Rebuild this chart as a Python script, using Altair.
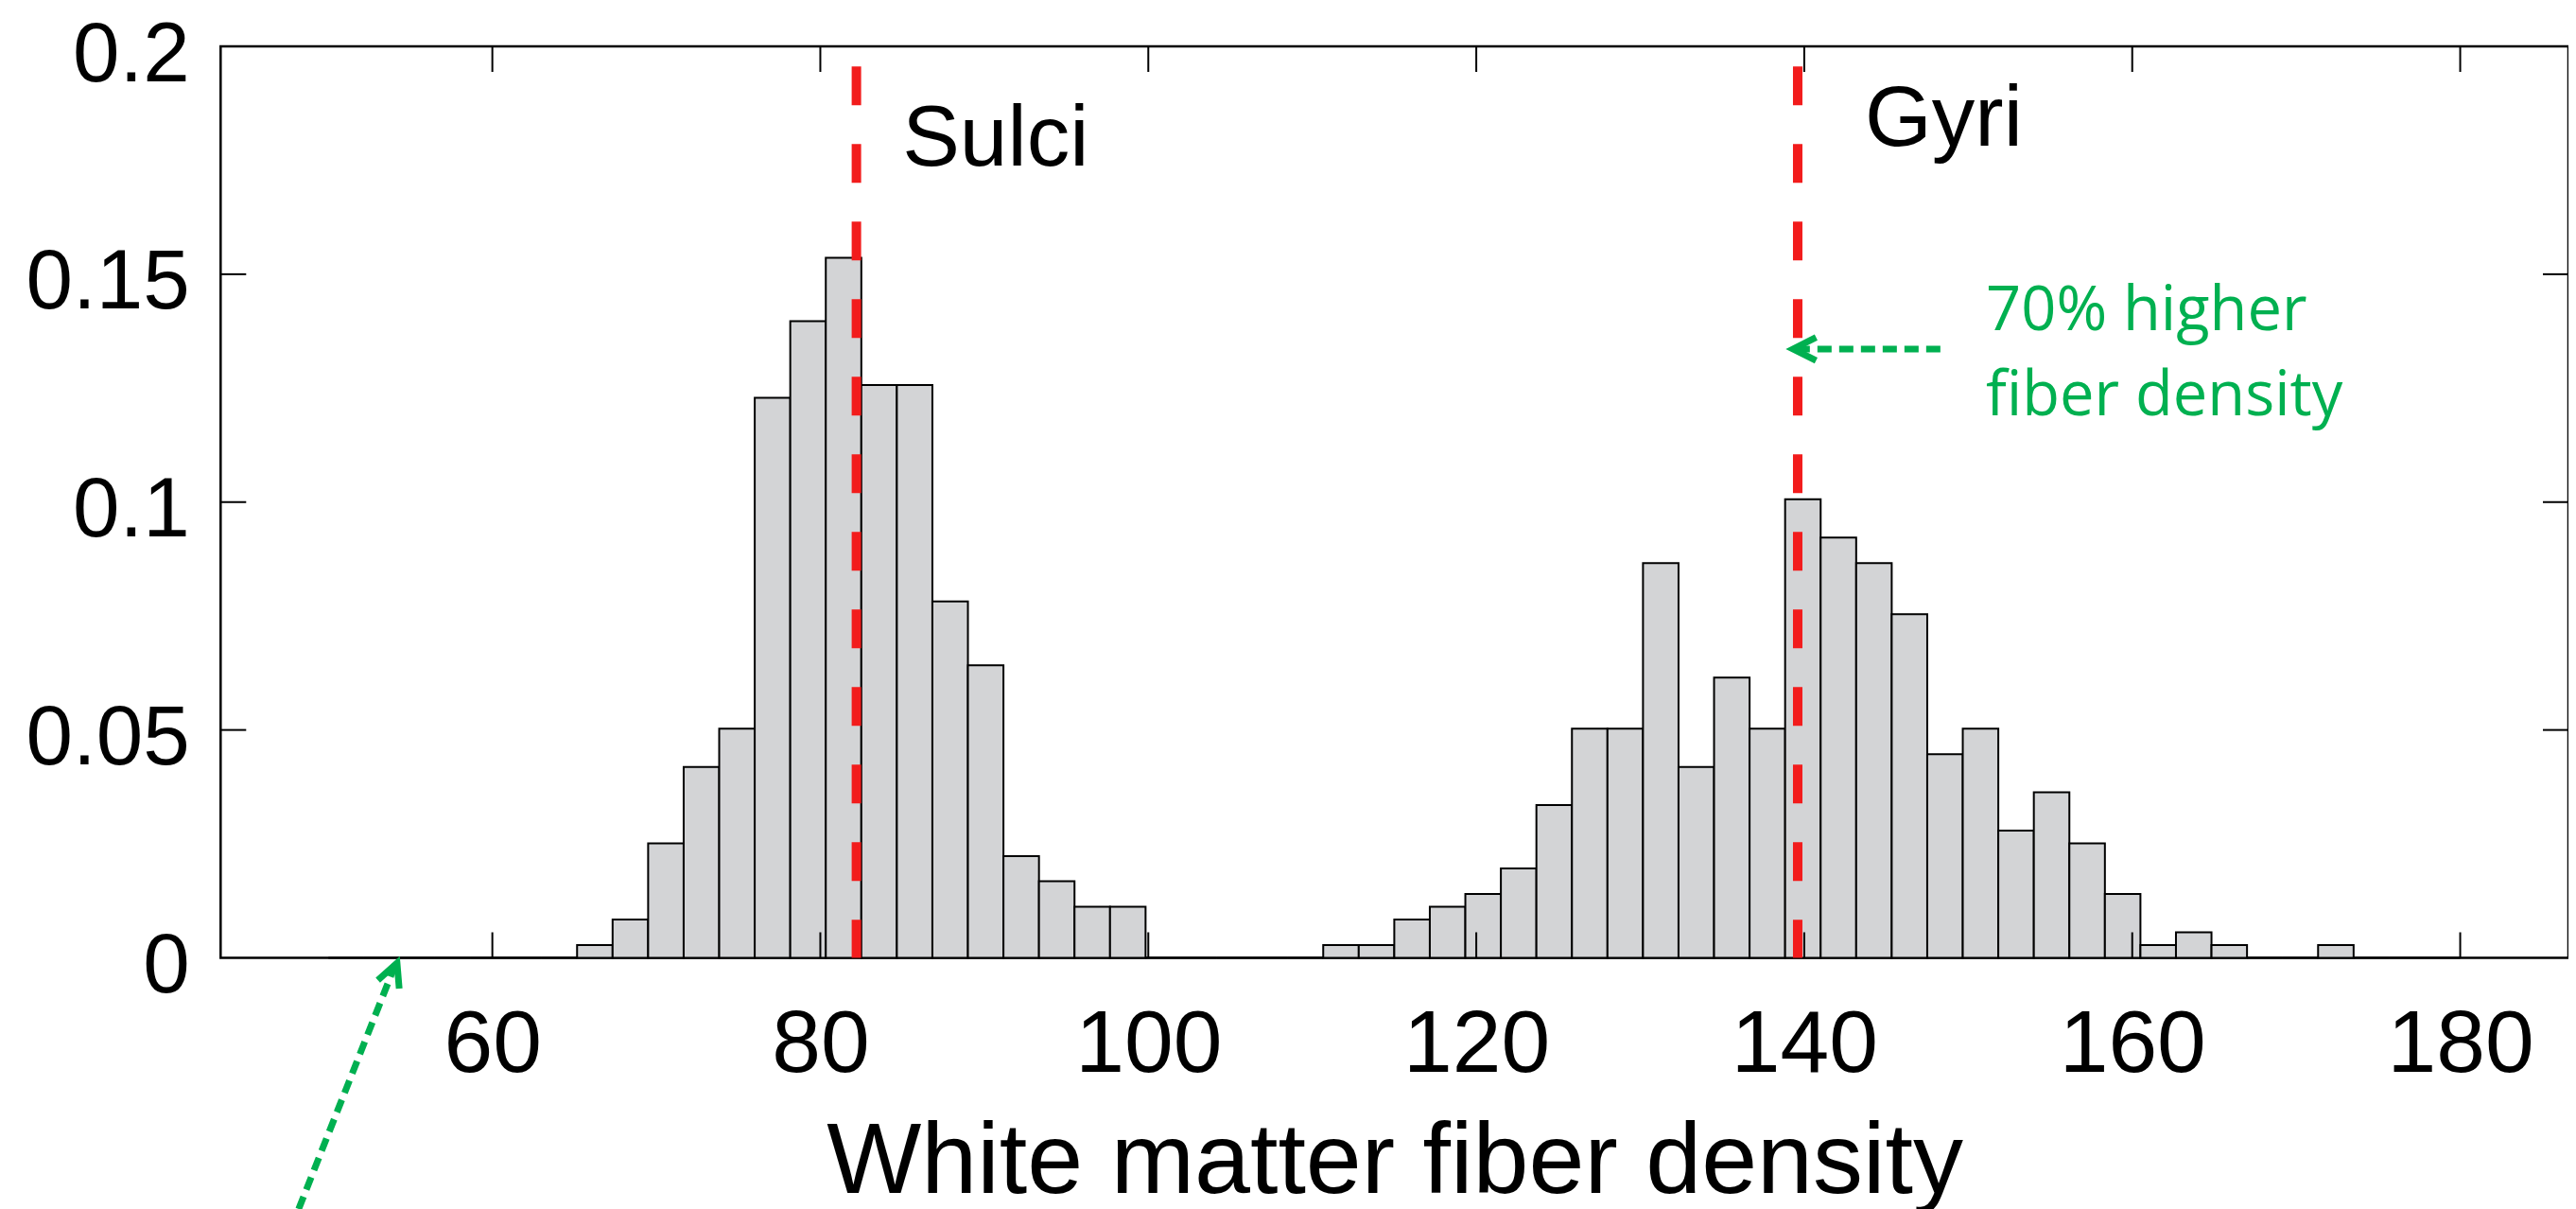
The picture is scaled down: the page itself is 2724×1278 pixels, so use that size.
import altair as alt
import pandas as pd

# ---------------- data ----------------
BIN_START = 50.0
BIN_END = 180.0
N_BINS = 60
# normalised histogram heights (probability per bin)
DENSITY = [
    0, 0, 0, 0, 0, 0, 0,
    0.0028, 0.0084, 0.0251, 0.0419, 0.0503, 0.1229, 0.1397, 0.1536,
    0.1257, 0.1257, 0.0782, 0.0642, 0.0223, 0.0168, 0.0112, 0.0112,
    0, 0, 0, 0, 0,
    0.0028, 0.0028, 0.0084, 0.0112, 0.0140, 0.0196, 0.0335, 0.0503,
    0.0503, 0.0866, 0.0419, 0.0615, 0.0503, 0.1006, 0.0922, 0.0866,
    0.0754, 0.0447, 0.0503, 0.0279, 0.0363, 0.0251, 0.0140, 0.0028,
    0.0056, 0.0028, 0, 0, 0.0028, 0, 0, 0,
]
MEAN_LABELS = ["Sulci", "Gyri"]
MEAN_X = [82.2, 139.6]
MEAN_TOP = 0.1956
LABEL_X = [85.0, 143.7]
LABEL_Y = [0.1738, 0.1782]

X_TICKS = [60, 80, 100, 120, 140, 160, 180]
Y_TICKS = [0, 0.05, 0.1, 0.15, 0.2]
Y_INNER_TICKS = [0.05, 0.1, 0.15]

NOTE_LINES = ["70% higher", "fiber density"]
NOTE_X = [151.08, 151.08]
NOTE_Y = [0.1377, 0.1191]

X_DOMAIN = [43.43, 186.6]
Y_DOMAIN = [0, 0.2]

GREEN = "#00b050"
RED = "#f21c1c"
FONT = "Liberation Sans"

W, H = 2482.7, 963.5

# ---------------- tables ----------------
bw = (BIN_END - BIN_START) / N_BINS
bars = pd.DataFrame({
    "b0": [BIN_START + i * bw for i in range(N_BINS)],
    "b1": [BIN_START + (i + 1) * bw for i in range(N_BINS)],
    "p": DENSITY,
})
bars["zero"] = 0.0

means = pd.DataFrame({"x": MEAN_X, "top": [MEAN_TOP] * 2, "bot": [0.0] * 2})
labels = pd.DataFrame({"x": LABEL_X, "y": LABEL_Y, "t": MEAN_LABELS})
notes = pd.DataFrame({"x": NOTE_X, "y": NOTE_Y, "t": NOTE_LINES})
xt = pd.DataFrame({"v": X_TICKS})
yt = pd.DataFrame({"v": Y_INNER_TICKS})

# annotation arrows (data coordinates)
harrow = pd.DataFrame({"x": [148.3], "x2": [139.55], "y": [0.1336]})
barrow = pd.DataFrame({"x": [48.19], "x2": [54.1], "y": [-0.0551], "y2": [-0.0013]})
heads = pd.DataFrame({"x": [139.32, 54.19], "y": [0.1336, -0.00114], "a": [270, 21.8]})

xs = alt.Scale(domain=X_DOMAIN, nice=False, zero=False)
ys = alt.Scale(domain=Y_DOMAIN, nice=False, zero=False)

x_axis = alt.Axis(
    values=X_TICKS, ticks=False, tickSize=0, domain=False, grid=False,
    labelFont=FONT, labelFontSize=93, labelColor="black",
    labelBaseline="alphabetic", labelPadding=120,
    title="White matter fiber density", titleFont=FONT, titleFontSize=106,
    titleFontWeight="normal", titleColor="black",
    titleBaseline="alphabetic", titleY=248,
)
y_axis = alt.Axis(
    values=Y_TICKS, ticks=False, tickSize=0, domain=False, grid=False,
    labelFont=FONT, labelFontSize=89, labelColor="black",
    labelBaseline="alphabetic", labelOffset=36, labelPadding=33,
    title="", labelExpr="datum.value == 0 ? '0' : format(datum.value, '.3~f')",
)


def X(field):
    return alt.X(field, scale=xs, axis=x_axis)


def Y(field):
    return alt.Y(field, scale=ys, axis=y_axis)


bar_layer = alt.Chart(bars).mark_rect(
    fill="#d3d4d6", stroke="black", strokeWidth=2
).encode(
    x=X("b0:Q"), x2="b1:Q", y=Y("p:Q"), y2="zero:Q",
)

red_layer = alt.Chart(means).mark_rule(
    color=RED, strokeWidth=10, strokeDash=[41, 41]
).encode(
    x=X("x:Q"), y=Y("top:Q"), y2="bot:Q",
)

tick_style = dict(color="black", strokeWidth=2)
tick_bottom = alt.Chart(xt).mark_rule(**tick_style).encode(
    x=X("v:Q"), y=alt.value(H), y2=alt.value(H - 27))
tick_top = alt.Chart(xt).mark_rule(**tick_style).encode(
    x=X("v:Q"), y=alt.value(0), y2=alt.value(27))
tick_left = alt.Chart(yt).mark_rule(**tick_style).encode(
    y=Y("v:Q"), x=alt.value(0), x2=alt.value(27))
tick_right = alt.Chart(yt).mark_rule(**tick_style).encode(
    y=Y("v:Q"), x=alt.value(W), x2=alt.value(W - 27))

label_layer = alt.Chart(labels).mark_text(
    align="left", baseline="alphabetic", font=FONT, fontSize=91, color="black"
).encode(
    x=X("x:Q"), y=Y("y:Q"), text="t:N",
)

note_layer = alt.Chart(notes).mark_text(
    align="left", baseline="alphabetic", font="Open Sans", fontSize=65, color=GREEN
).encode(
    x=X("x:Q"), y=Y("y:Q"), text="t:N",
)

harrow_layer = alt.Chart(harrow).mark_rule(
    color=GREEN, strokeWidth=7, strokeDash=[15, 8]
).encode(
    x=X("x:Q"), x2="x2:Q", y=Y("y:Q"),
)

barrow_layer = alt.Chart(barrow).mark_rule(
    color=GREEN, strokeWidth=7, strokeDash=[14, 8]
).encode(
    x=X("x:Q"), x2="x2:Q", y=Y("y:Q"), y2="y2:Q",
)

head_layer = alt.Chart(heads).mark_point(
    shape="M -0.45 0.9 L 0 0 L 0.45 0.9", filled=False, size=2916,
    stroke=GREEN, strokeWidth=7, opacity=1, strokeJoin="miter", strokeCap="butt",
).encode(
    x=X("x:Q"), y=Y("y:Q"),
    angle=alt.Angle("a:Q", scale=None),
)

chart = alt.layer(
    bar_layer, red_layer, tick_bottom, tick_top, tick_left, tick_right,
    label_layer, note_layer, harrow_layer, barrow_layer, head_layer,
).properties(
    width=W, height=H,
    autosize=alt.AutoSizeParams(type="none"),
    padding={"left": 225.3, "top": 41, "right": 0, "bottom": 266},
    background="white",
).configure_view(
    stroke="black", strokeWidth=2.5
)

chart.save("out.html", embed_options={"renderer": "svg", "actions": False})
